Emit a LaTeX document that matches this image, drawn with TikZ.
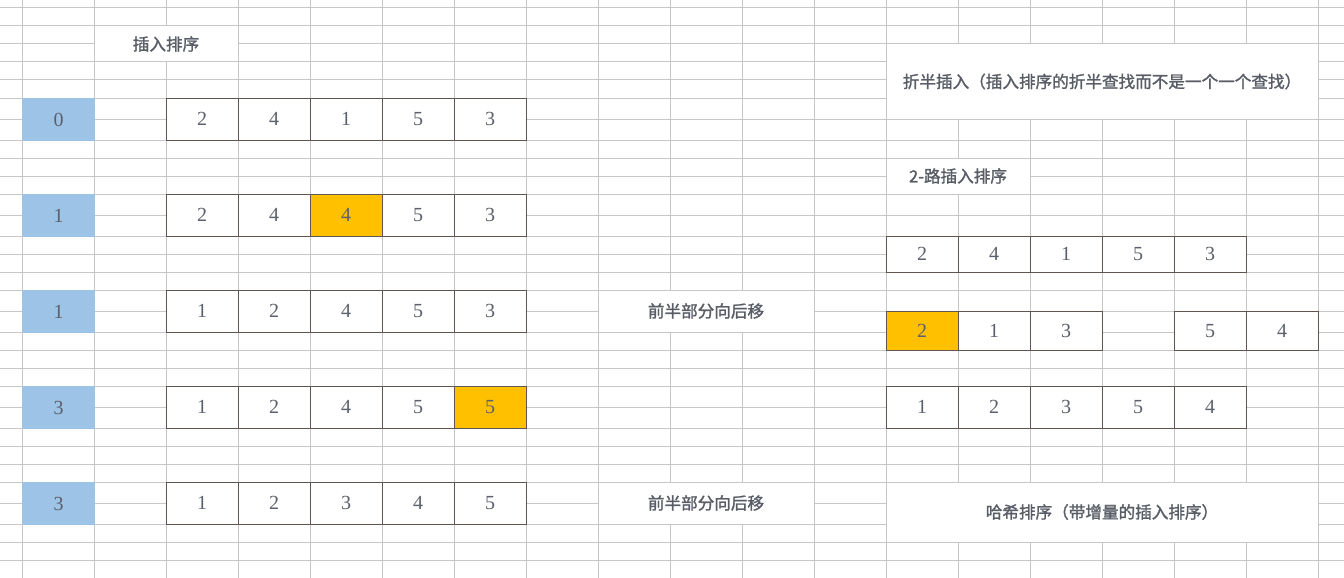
\documentclass[tikz,border=0pt]{standalone}
\usepackage{fontspec}
\setmainfont{Liberation Serif}
\newfontfamily\cjk[FakeBold=1.5]{Noto Sans CJK SC}
\definecolor{gridc}{HTML}{C6C6C6}
\definecolor{boxc}{HTML}{615552}
\definecolor{txtc}{HTML}{5B606C}
\definecolor{cjkc}{HTML}{595D66}
\definecolor{bluec}{HTML}{9DC3E6}
\definecolor{yelc}{HTML}{FFC000}
\tikzset{
  cell/.style={draw=boxc, line width=1pt, minimum width=72pt, inner sep=0pt, outer sep=0pt,
    anchor=north west, text=txtc, font=\fontsize{20}{20}\selectfont, text depth=-1pt},
  idx/.style={fill=bluec, draw=none, minimum width=73pt, minimum height=43pt, inner sep=0pt, outer sep=0pt,
    anchor=north west, text=txtc, font=\fontsize{20}{20}\selectfont, text depth=-1pt},
  merged/.style={fill=white, draw=none, inner sep=0pt, outer sep=0pt, anchor=north west,
    text=cjkc, font=\cjk\fontsize{16.6}{17}\selectfont},
}
\begin{document}
\begin{tikzpicture}[x=1pt,y=-1pt]
\useasboundingbox (0,0) rectangle (1344,578);
\fill[white] (0,0) rectangle (1344,578);
% grid
\foreach \r in {8,26,44,62,80,98,119,140,158,176,194,215,236,254,272,290,311,332,350,368,386,407,428,446,464,482,503,524,542,560,578}
  \draw[gridc, line width=1pt] (0,\r) -- (1344,\r);
\foreach \k in {0,...,18}
  \draw[gridc, line width=1pt] ({22+72*\k},0) -- ({22+72*\k},578);
% merged text cells
\node[merged, minimum width=143pt, minimum height=35pt] (t1) at (94.5,26.5) {插入排序};
\node[merged, minimum width=431pt, minimum height=74pt] (t2) at (886.5,44.5) {折半插入（插入排序的折半查找而不是一个一个查找）};
\node[merged, minimum width=143pt, minimum height=35pt] (t3) at (886.5,158.5) {2-路插入排序};
\node[merged, minimum width=215pt, minimum height=41pt] (t4) at (598.5,290.5) {前半部分向后移};
\node[merged, minimum width=215pt, minimum height=41pt] (t5) at (598.5,482.5) {前半部分向后移};
\node[merged, minimum width=431pt, minimum height=59pt] (t6) at (886.5,482.5) {哈希排序（带增量的插入排序）};
% index cells
\node[idx] (i1) at (22,98) {0};
\node[idx] (i2) at (22,194) {1};
\node[idx] (i3) at (22,290) {1};
\node[idx] (i4) at (22,386) {3};
\node[idx] (i5) at (22,482) {3};
% left rows
\foreach \v/\f [count=\i] in {2/white,4/white,1/white,5/white,3/white}
  \node[cell, minimum height=42pt, fill=\f] (a\i) at ({166+72*(\i-1)},98) {\v};
\foreach \v/\f [count=\i] in {2/white,4/white,4/yelc,5/white,3/white}
  \node[cell, minimum height=42pt, fill=\f] (b\i) at ({166+72*(\i-1)},194) {\v};
\foreach \v/\f [count=\i] in {1/white,2/white,4/white,5/white,3/white}
  \node[cell, minimum height=42pt, fill=\f] (c\i) at ({166+72*(\i-1)},290) {\v};
\foreach \v/\f [count=\i] in {1/white,2/white,4/white,5/white,5/yelc}
  \node[cell, minimum height=42pt, fill=\f] (d\i) at ({166+72*(\i-1)},386) {\v};
\foreach \v/\f [count=\i] in {1/white,2/white,3/white,4/white,5/white}
  \node[cell, minimum height=42pt, fill=\f] (e\i) at ({166+72*(\i-1)},482) {\v};
% right rows
\foreach \v [count=\i] in {2,4,1,5,3}
  \node[cell, minimum height=36pt, fill=white] (p\i) at ({886+72*(\i-1)},236) {\v};
\node[cell, minimum height=39pt, fill=yelc] (q1) at (886,311) {2};
\node[cell, minimum height=39pt, fill=white] (q2) at (958,311) {1};
\node[cell, minimum height=39pt, fill=white] (q3) at (1030,311) {3};
\node[cell, minimum height=39pt, fill=white] (q5) at (1174,311) {5};
\node[cell, minimum height=39pt, fill=white] (q6) at (1246,311) {4};
\foreach \v [count=\i] in {1,2,3,5,4}
  \node[cell, minimum height=42pt, fill=white] (r\i) at ({886+72*(\i-1)},386) {\v};
\end{tikzpicture}
\end{document}
